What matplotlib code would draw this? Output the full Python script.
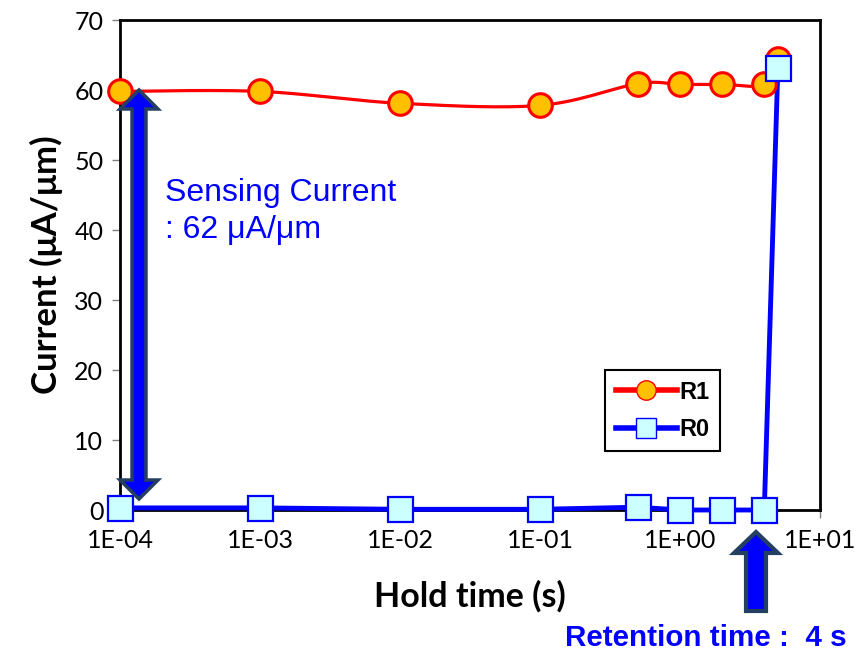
import numpy as np
import matplotlib
matplotlib.use("Agg")
import matplotlib.pyplot as plt
from matplotlib.patches import Polygon

plt.rcParams['font.family'] = ['Lato', 'DejaVu Sans']

# Data
hold_time = [1e-4, 1e-3, 1e-2, 1e-1, 0.5, 1.0, 2.0, 4.0, 5.0]
r1_current = [59.8, 59.8, 58.1, 57.8, 60.9, 60.8, 60.8, 60.8, 64.5]
r0_current = [0.3, 0.3, 0.1, 0.1, 0.4, 0.0, 0.0, 0.0, 63.2]
xtick_vals = [1e-4, 1e-3, 1e-2, 1e-1, 1e0, 1e1]
xtick_labels = ['1E-04', '1E-03', '1E-02', '1E-01', '1E+00', '1E+01']
ytick_vals = [0, 10, 20, 30, 40, 50, 60, 70]

fig = plt.figure(figsize=(8.61, 6.55), dpi=100)
ax = fig.add_axes([120/861, 1-510/655, 700/861, 490/655])
ax.set_xscale('log')
ax.set_xlim(1e-4, 1e1)
ax.set_ylim(0, 70)

# smooth R1 line (Catmull-Rom in log-x space)
lx = np.log10(hold_time)
ys = np.array(r1_current)
n = len(lx)
def bez(p0, p1, p2, p3, tt):
    return ((1-tt)**3)[:, None]*p0 + (3*(1-tt)**2*tt)[:, None]*p1 + (3*(1-tt)*tt**2)[:, None]*p2 + (tt**3)[:, None]*p3
curve = []
tt = np.linspace(0, 1, 30)
for i in range(n - 1):
    p0 = np.array([lx[max(i-1, 0)], ys[max(i-1, 0)]])
    p1 = np.array([lx[i], ys[i]])
    p2 = np.array([lx[i+1], ys[i+1]])
    p3 = np.array([lx[min(i+2, n-1)], ys[min(i+2, n-1)]])
    c1 = p1 + (p2 - p0)/6
    c2 = p2 - (p3 - p1)/6
    curve.append(bez(p1, c1, c2, p2, tt))
curve = np.vstack(curve)
ax.plot(10**curve[:, 0], curve[:, 1], color='#FF0000', lw=2.3, zorder=3, clip_on=False)

# R0 line
ax.plot(hold_time, r0_current, color='#0000FF', lw=3.5, zorder=4, clip_on=False)

# markers
ax.plot(hold_time, r1_current, 'o', ms=17, mfc='#FFC000', mec='#FF0000', mew=2.2, zorder=5, clip_on=False)
ax.plot(hold_time, r0_current, 's', ms=18, mfc='#CCFFFF', mec='#0000FF', mew=1.6, zorder=6, clip_on=False)

# legend proxies
l1, = ax.plot([], [], '-o', color='#FF0000', lw=4, ms=14, mfc='#FFC000', mec='#FF0000', mew=1)
l0, = ax.plot([], [], '-s', color='#0000FF', lw=4, ms=14, mfc='#CCFFFF', mec='#0000FF', mew=1)
leg = ax.legend([l1, l0], ['R1', 'R0'], loc='upper left', bbox_to_anchor=((605-120)/700, (510-370)/490),
                frameon=True, fancybox=False, edgecolor='black', framealpha=1,
                prop={'size': 17, 'weight': 'bold', 'family': 'Liberation Sans'},
                handlelength=2.6, handletextpad=0.1, borderpad=0.45, labelspacing=0.6, borderaxespad=0)
leg.get_frame().set_linewidth(1.5)

ax.set_xticks(xtick_vals)
ax.set_xticklabels(xtick_labels)
ax.minorticks_off()
ax.set_yticks(ytick_vals)
ax.tick_params(axis='both', labelsize=18, colors='#000000', length=6, width=1, direction='out')
ax.tick_params(axis='both', color='#808080')
ax.tick_params(axis='x', pad=8)
ax.tick_params(axis='y', pad=6)
for s in ax.spines.values():
    s.set_linewidth(2)
    s.set_color('black')

ax.set_ylabel('Current (μA/μm)', fontsize=25, fontweight='bold', labelpad=8)
ax.set_xlabel('Hold time (s)', fontsize=24.5, fontweight='bold', labelpad=20)

fig.text(165/861, 1-193/655, 'Sensing Current', color='#0000FF', fontsize=23,
         family='Liberation Sans', va='center', ha='left')
fig.text(165/861, 1-230/655, ': 62 μA/μm', color='#0000FF', fontsize=23,
         family='Liberation Sans', va='center', ha='left')
fig.text(565/861, 1-638/655, 'Retention time :  4 s', color='#0000FF', fontsize=21.3,
         family='Liberation Sans', fontweight='bold', va='center', ha='left')

H = 655
def px(pts):
    return [(x/861, 1 - y/H) for x, y in pts]

# double arrow
cx, top, bot = 139, 90, 499
sw, hw, hl = 7, 19, 19
dbl = [(cx, top), (cx+hw, top+hl), (cx+sw, top+hl), (cx+sw, bot-hl), (cx+hw, bot-hl), (cx, bot),
       (cx-hw, bot-hl), (cx-sw, bot-hl), (cx-sw, top+hl), (cx-hw, top+hl)]
fig.patches.append(Polygon(px(dbl), closed=True, facecolor='#0000FF', edgecolor='#243F60', lw=2.5,
                           joinstyle='miter', transform=fig.transFigure, figure=fig, zorder=10))

# up arrow
ux, utop, ubot = 756, 532, 611
usw, uhw, uhl = 10, 22, 21
up = [(ux, utop), (ux+uhw, utop+uhl), (ux+usw, utop+uhl), (ux+usw, ubot), (ux-usw, ubot),
      (ux-usw, utop+uhl), (ux-uhw, utop+uhl)]
fig.patches.append(Polygon(px(up), closed=True, facecolor='#0000FF', edgecolor='#243F60', lw=3,
                           joinstyle='miter', transform=fig.transFigure, figure=fig, zorder=10))

fig.savefig('out.png', dpi=100)
